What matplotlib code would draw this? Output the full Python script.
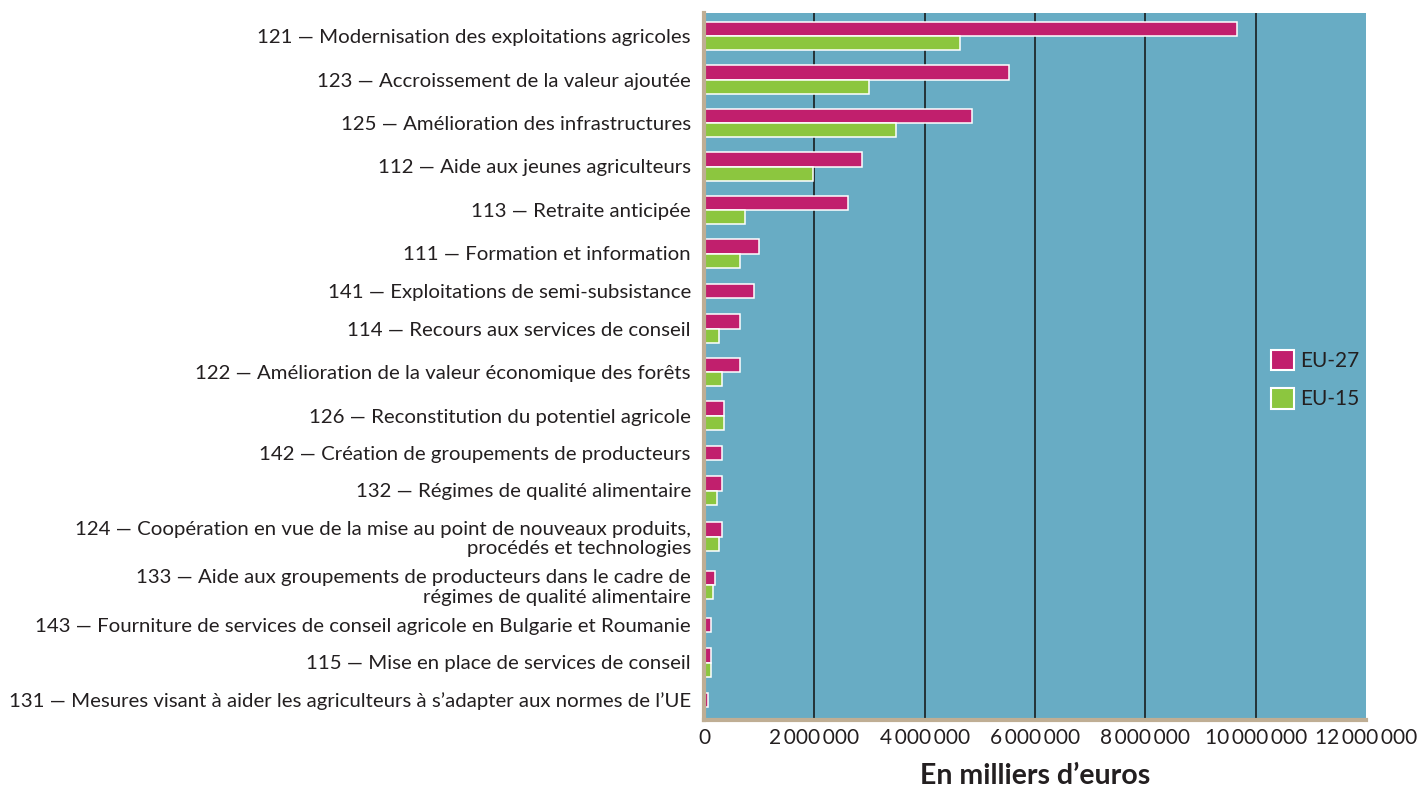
import matplotlib
matplotlib.use("Agg")
import matplotlib.pyplot as plt
from matplotlib.ticker import FixedLocator, FuncFormatter
from matplotlib.patches import Patch

categories = [
    "121 — Modernisation des exploitations agricoles",
    "123 — Accroissement de la valeur ajoutée",
    "125 — Amélioration des infrastructures",
    "112 — Aide aux jeunes agriculteurs",
    "113 — Retraite anticipée",
    "111 — Formation et information",
    "141 — Exploitations de semi-subsistance",
    "114 — Recours aux services de conseil",
    "122 — Amélioration de la valeur économique des forêts",
    "126 — Reconstitution du potentiel agricole",
    "142 — Création de groupements de producteurs",
    "132 — Régimes de qualité alimentaire",
    "124 — Coopération en vue de la mise au point de nouveaux produits,\nprocédés et technologies",
    "133 — Aide aux groupements de producteurs dans le cadre de\nrégimes de qualité alimentaire",
    "143 — Fourniture de services de conseil agricole en Bulgarie et Roumanie",
    "115 — Mise en place de services de conseil",
    "131 — Mesures visant à aider les agriculteurs à s’adapter aux normes de l’UE",
]
eu27 = [9660000, 5520000, 4860000, 2860000, 2610000, 990000, 910000, 660000,
        660000, 370000, 330000, 330000, 330000, 200000, 120000, 120000, 80000]
eu15 = [4640000, 2990000, 3480000, 1980000, 740000, 660000, 0, 280000,
        330000, 370000, 0, 240000, 280000, 160000, 0, 120000, 0]
series_names = ["EU-27", "EU-15"]
xticks = [0, 2000000, 4000000, 6000000, 8000000, 10000000, 12000000]
xlabel = "En milliers d’euros"

PINK = "#c11f6d"
GREEN = "#8cc63f"
BG = "#68acc4"
TAN = "#bfae94"
TXT = "#231f20"
FAM = ["Lato", "DejaVu Sans"]
plt.rcParams["font.family"] = FAM

# layout: row slot heights (in layout units) depend on bars / lines
slots = []
for lab, b in zip(categories, eu15):
    s = 43.5 if b > 0 else 31.5
    if "\n" in lab:
        s += 5
    slots.append(s)
centers = []
c = 0.0
for i, s in enumerate(slots):
    if i > 0:
        c += slots[i - 1] / 2 + s / 2
    centers.append(c)

fig = plt.figure(figsize=(14.2, 7.88), dpi=100)
ax = fig.add_axes([704 / 1420, 1 - 719.5 / 788, 662 / 1420, (719.5 - 12.7) / 788])
ax.set_facecolor(BG)

bh = 14.3
for y, a, b in zip(centers, eu27, eu15):
    if b > 0:
        ax.barh(y - bh / 2, a, height=bh, color=PINK, edgecolor="white", linewidth=1.1, zorder=3)
        ax.barh(y + bh / 2, b, height=bh, color=GREEN, edgecolor="white", linewidth=1.1, zorder=3)
    else:
        ax.barh(y, a, height=bh, color=PINK, edgecolor="white", linewidth=1.1, zorder=3)

ax.set_ylim(centers[-1] + 19.5, centers[0] - 23.3)
ax.set_xlim(xticks[0], xticks[-1])

ax.set_yticks(centers)
ax.set_yticklabels(categories, fontsize=14.7, color=TXT, linespacing=1.15, ha="right")
ax.tick_params(axis="y", length=0, pad=9.5)

ax.xaxis.set_major_locator(FixedLocator(xticks))
ax.xaxis.set_major_formatter(FuncFormatter(lambda v, p: f"{int(v):,}".replace(",", "\u2009")))
ax.tick_params(axis="x", length=0, pad=6, labelsize=15, labelcolor=TXT)

for v in xticks[1:-1]:
    ax.axvline(v, color="#111111", linewidth=1.1, zorder=1)

for s in ["top", "right"]:
    ax.spines[s].set_visible(False)
for s in ["left", "bottom"]:
    ax.spines[s].set_color(TAN)
    ax.spines[s].set_linewidth(3)
    ax.spines[s].set_zorder(4)

ax.set_xlabel(xlabel, fontsize=20.5, fontweight="bold", color=TXT, labelpad=11)

handles = [Patch(facecolor=PINK, edgecolor="white", linewidth=1.5),
           Patch(facecolor=GREEN, edgecolor="white", linewidth=1.5)]
leg = ax.legend(handles, series_names, loc="center left", bbox_to_anchor=(0.857, 0.481),
                frameon=False, fontsize=15, handlelength=1.1, handleheight=1.15,
                handletextpad=0.3, labelspacing=0.8, borderpad=0, borderaxespad=0)
for t in leg.get_texts():
    t.set_color(TXT)

fig.savefig("out.png", dpi=100)
